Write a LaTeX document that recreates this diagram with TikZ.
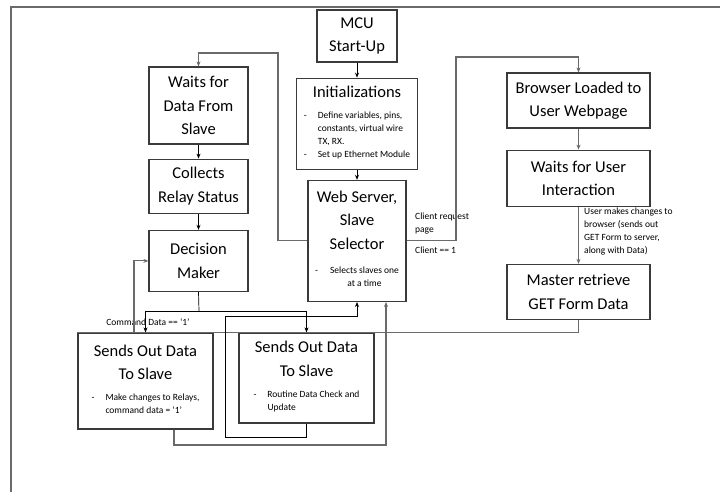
\documentclass[tikz,border=0pt]{standalone}
\usepackage{fontspec}
\setmainfont{Carlito}
\usetikzlibrary{positioning,arrows.meta}

\definecolor{boxline}{HTML}{3A3A3A}
\definecolor{wiregrey}{HTML}{6A6A6A}

\newcommand{\bigtxt}{\fontsize{16.5}{23.5}\selectfont}
\newcommand{\smalltxt}{\fontsize{9.5}{13}\selectfont}

\tikzset{
  % flowchart boxes
  stepbox/.style={draw=boxline, line width=1.2pt, align=center, font=\bigtxt, inner sep=2pt},
  % plain and grey connectors
  link/.style={draw=black, line width=0.7pt},
  greylink/.style={draw=wiregrey, line width=1.1pt},
  tip/.style={-{Stealth[length=5pt,width=4pt]}},
  note/.style={align=left, font=\smalltxt, inner sep=0pt},
}

\begin{document}
\begin{tikzpicture}[x=1pt,y=-1pt]
            \useasboundingbox (0,0) rectangle (720,492);
            \draw[greylink] (720,7) -- (11,7) -- (11,492);

            \node[stepbox, minimum width=80pt, minimum height=52pt] (mcu) at (357,36) {MCU\\Start-Up};
            \node[stepbox, minimum width=121pt, minimum height=91pt, below=15pt of mcu] (init) {Initializations\\[11pt]
              {\smalltxt\begin{tabular}{@{}p{14pt}@{}l@{}}-&Define variables, pins,\\&constants, virtual wire\\&TX, RX.\\-&Set up Ethernet Module\end{tabular}}};
            \node[stepbox, minimum width=98pt, minimum height=121pt, below=10pt of init] (web) {Web Server,\\Slave\\Selector\\[7pt]
              {\smalltxt\begin{tabular}{@{}p{15pt}@{}c@{}}-&Selects slaves one\\&at a time\end{tabular}}\\[-12pt]};

            \node[stepbox, minimum width=99pt, minimum height=77pt] (wfd) at (198.5,105.5) {Waits for\\Data From\\Slave};
            \node[stepbox, minimum width=99pt, minimum height=54pt, below=14pt of wfd] (col) {Collects\\Relay Status};
            \node[stepbox, minimum width=99pt, minimum height=61pt, below=16pt of col] (dec) {Decision\\Maker};

            \node[stepbox, minimum width=143pt, minimum height=55pt] (browser) at (578.5,100.5) {Browser Loaded to\\User Webpage};
            \node[stepbox, minimum width=143pt, minimum height=56pt, below=21pt of browser] (wfu) {Waits for User\\Interaction};
            \node[stepbox, minimum width=143pt, minimum height=55pt, below=57pt of wfu] (master) {Master retrieve\\GET Form Data};

            \node[stepbox, minimum width=135pt, minimum height=96pt] (ls) at (145.5,381) {Sends Out Data\\To Slave\\[3pt]
              {\smalltxt\begin{tabular}{@{}p{14pt}@{}l@{}}-&Make changes to Relays,\\&command data = ‘1’\end{tabular}}};
            \node[stepbox, minimum width=135pt, minimum height=90pt] (rs) at (306.5,378) {Sends Out Data\\To Slave\\[4pt]
              {\smalltxt\begin{tabular}{@{}p{14pt}@{}l@{}}-&Routine Data Check and\\&Update\end{tabular}}};

            \node[note, anchor=north west] (reqlbl) at (415,213) {Client request\\page};
            \node[note, anchor=north west] (clilbl) at (415,247) {Client == 1};
            \node[note, anchor=north west] (userlbl) at (584,208) {User makes changes to\\browser (sends out\\GET Form to server,\\along with Data)};
            \node[note] (cmdlbl) at (148,322) {Command Data == ‘1’};

            \coordinate (loop) at (278,53);
            \coordinate (req) at (456,57);
            \coordinate (cmd) at (134,333);
            \coordinate (fork) at (199,311);
            \coordinate (rsA) at (225,437);
            \coordinate (rsB) at (225,316);
            \coordinate (lsA) at (174,445);
            \coordinate (lsB) at (386,445);

            \draw[link,tip] (mcu) -- (init);
            \draw[link,tip] (init) -- (web);
            \draw[greylink,tip] (web.west) -| (loop) -| (wfd.north);
            \draw[link,tip] (wfd) -- (col);
            \draw[link,tip] (col) -- (dec);
            \draw[greylink,tip] (web.east) -| (req) -| (browser.north);
            \draw[greylink,tip] (browser) -- (wfu);
            \draw[greylink,tip] (wfu) -- (master);
            \draw[greylink] (master.south) |- (ls.north west);
            \draw[greylink,tip] (cmd) |- (dec.west);
            \draw[link] (dec.south) -- (fork);
            \draw[link,tip] (fork) -| (ls.north);
            \draw[link,tip] (fork) -| (rs.north);
            \draw[link,tip] (rs.south) |- (rsA) -- (rsB) -| (web.south);
            \draw[greylink,tip] (ls.south -| lsA) -- (lsA) -- (lsB) -- (lsB |- web.south);
        \end{tikzpicture}
\end{document}
